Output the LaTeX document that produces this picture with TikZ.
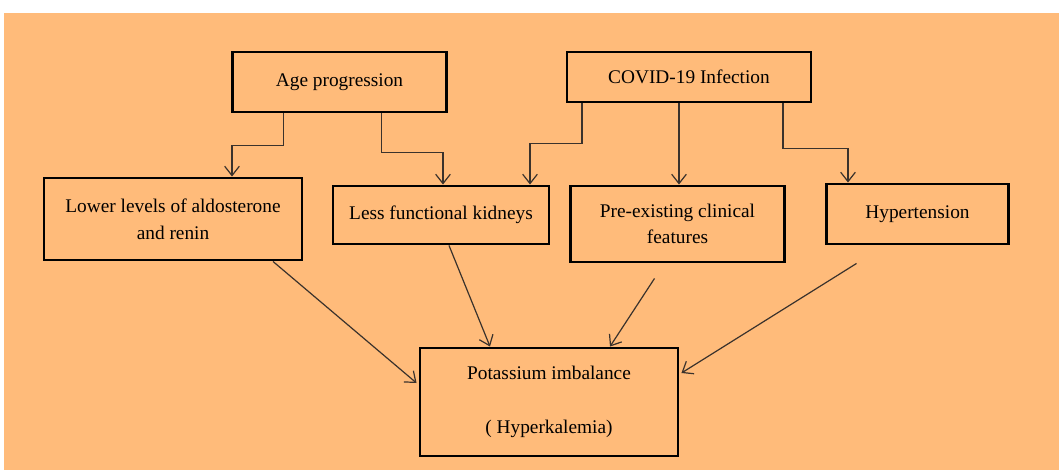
\documentclass[tikz,border=0pt]{standalone}
\usepackage{fontspec}
\setmainfont{Liberation Serif}
\definecolor{PeachBg}{RGB}{255,187,122}
\definecolor{LineGray}{RGB}{58,50,44}
\usetikzlibrary{arrows.meta, positioning, calc}

\begin{document}
\begin{tikzpicture}[
    x=0.75pt, y=-0.75pt,
    box/.style={rectangle, draw=black, line width=2.2pt, fill=PeachBg, align=center, inner sep=2pt,
        font=\fontsize{14.5pt}{20pt}\selectfont},
    arr/.style={-{Straight Barb[length=7pt, width=11pt]}, line width=0.9pt, LineGray}
]
    \useasboundingbox (0,0) rectangle (1059,470);
    \fill[white] (0,0) rectangle (1059,470);
    \fill[PeachBg] (4,13) rectangle (1059,470);

    \node[box, minimum width=161pt, minimum height=45pt]   (age) at (339.5,82) {Age progression};
    \node[box, minimum width=183pt, minimum height=37.5pt] (cov) at (689,77)   {COVID-19 Infection};
    \node[box, minimum width=193.5pt, minimum height=61.5pt] (low) at (173,219) {Lower levels of aldosterone\\and renin};
    \node[box, minimum width=162pt, minimum height=43.5pt] (kid) at (441,215)  {Less functional kidneys};
    \node[box, minimum width=161pt, minimum height=57pt]   (pre) at (677.5,224) {Pre-existing clinical\\features};
    \node[box, minimum width=137pt, minimum height=45pt]   (hyp) at (917.5,214) {Hypertension};
    \node[box, minimum width=193.5pt, minimum height=81pt] (pot) at (549,402)  {Potassium imbalance\\[21pt]( Hyperkalemia)};

    % causes
    \draw[arr] ($(age.south)+(-56,0)$) -- ++(0,32) -| ($(low.north)+(59,0)$);
    \draw[arr] ($(age.south)+(42,0)$) -- ++(0,39) -| ($(kid.north)+(2,0)$);
    \draw[arr] ($(cov.south)+(-107,0)$) -- ++(0,40) -| ($(kid.north)+(89,0)$);
    \draw[arr] ($(cov.south)+(-10,0)$) -- ($(pre.north)+(1.5,0)$);
    \draw[arr] ($(cov.south)+(94,0)$) -- ++(0,45) -| ($(hyp.north)+(-69.5,0)$);

    % effects
    \draw[arr] ($(low.south)+(100,0)$) -- ($(pot.west)+(-2,-19)$);
    \draw[arr] ($(kid.south)+(8,0)$) -- ($(pot.north)+(-59,0)$);
    \draw[arr] ($(pre.south)+(-23,15)$) -- ($(pot.north)+(61,0)$);
    \draw[arr] ($(hyp.south)+(-61,18)$) -- ($(pot.east)+(2,-29)$);
\end{tikzpicture}
\end{document}
